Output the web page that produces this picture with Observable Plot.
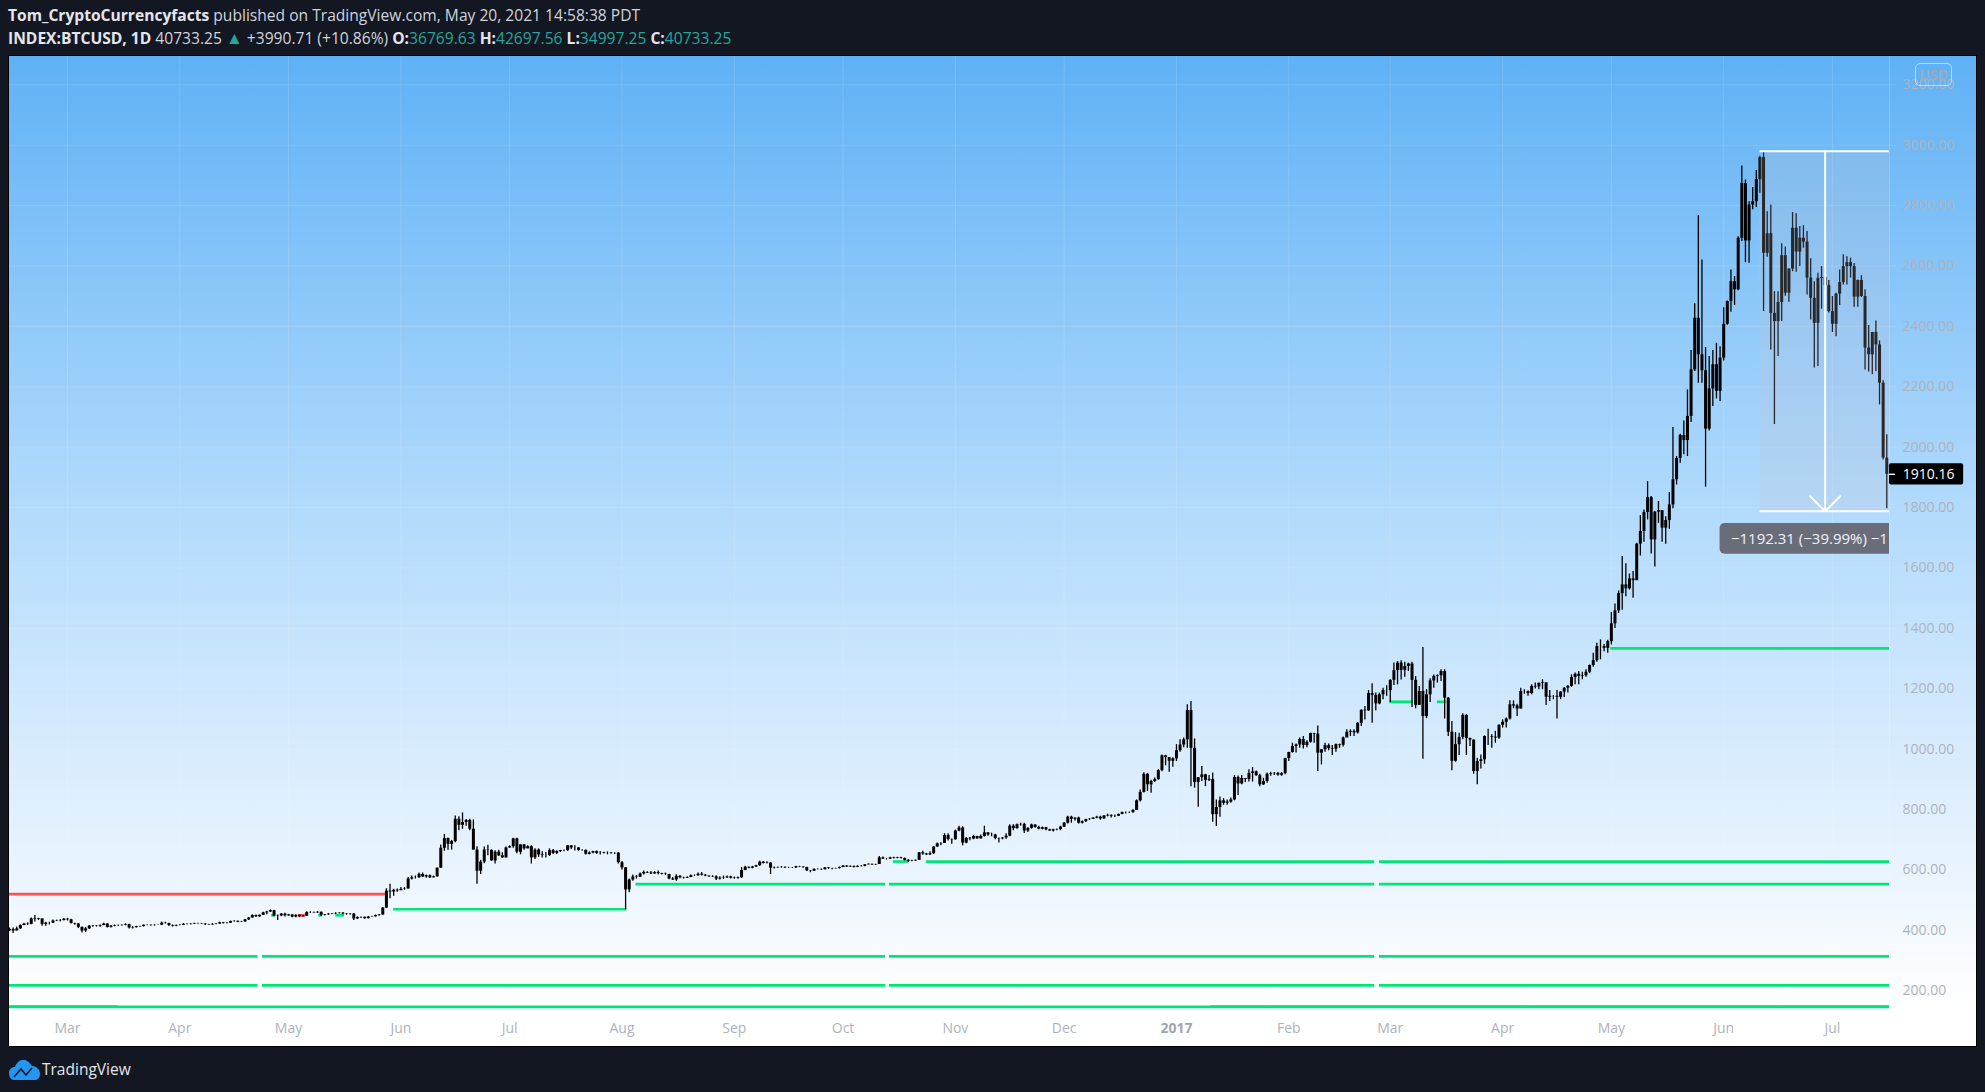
<!DOCTYPE html>
<html>
<head>
<meta charset="utf-8">
<script src="https://cdn.jsdelivr.net/npm/d3@7"></script>
<script src="https://cdn.jsdelivr.net/npm/@observablehq/plot@0.6"></script>
<style>
html,body{margin:0;padding:0;background:#131722;width:1985px;height:1092px;overflow:hidden;font-family:"Open Sans",sans-serif;}
#head{height:55px;box-sizing:border-box;padding:5px 0 0 8px;color:#d1d4dc;font-size:15.6px;line-height:21.5px;white-space:nowrap;}
#head b{font-weight:700;color:#e4e6ec;}
#head .v{color:#26a69a;}
#head .t{color:#26a69a;font-size:17px;}
#chart{position:absolute;left:9px;top:56px;}
#chart svg{display:block;box-shadow:0 0 0 1px #000;}
#usd{position:absolute;left:1915px;top:63px;width:35px;height:21px;border:1.5px solid rgba(255,255,255,.55);border-radius:5px;color:#a3a9b5;font-size:14px;font-weight:600;line-height:21px;text-align:center;box-sizing:content-box;}
#foot{position:absolute;left:8px;top:1057px;display:flex;align-items:center;color:#e4e6ec;font-size:15.5px;line-height:24px;}
#foot svg{margin-right:1px;}
</style>
</head>
<body>
<div id="head">
<div><b>Tom_CryptoCurrencyfacts</b> published on TradingView.com, May 20, 2021 14:58:38 PDT</div>
<div><b>INDEX:BTCUSD, 1D</b> 40733.25 <span class="t">▲</span> +3990.71 (+10.86%) <b>O:</b><span class="v">36769.63</span> <b>H:</b><span class="v">42697.56</span> <b>L:</b><span class="v">34997.25</span> <b>C:</b><span class="v">40733.25</span></div>
</div>
<div id="chart"></div>
<div id="usd">USD</div>
<div id="foot"><svg width="33" height="22" viewBox="0 0 33 22"><path d="M1 15 C1 11 4 8.5 7 9 C9 3 15 0 19 3 C22 4.5 23 7 24 8 C28 8 32 11 32 16 C32 20 29 22 27 22 L6 22 C3 22 1 19 1 15 Z" fill="#2196f3"/><path d="M6 19 L13 11 L18 17 L24 10" stroke="#131722" stroke-width="1.6" fill="none"/></svg>TradingView</div>
<script>
const startDay = "2016-02-14";
const firstOpen = 399;

const closes = [
 403,398,405,416,421,420,438,436,438,420,424,424,431,432,433,437,
 435,423,421,410,398,405,414,413,414,416,421,410,414,416,416,417,419,408,409,412,413,417,417,416,417,417,424,423,416,414,416,
 417,420,420,421,423,422,421,419,418,420,421,425,423,424,429,430,427,428,435,441,449,445,450,458,461,465,447,448,454,448,
 451,444,450,445,447,459,459,458,460,450,452,454,455,456,457,454,453,454,438,442,443,439,444,445,449,451,474,530,527,533,531,
 536,537,570,574,574,585,577,581,574,577,606,672,704,685,694,768,748,757,764,735,666,596,626,666,665,630,659,647,640,673,
 677,703,659,683,670,677,640,666,650,648,648,664,655,661,664,664,680,673,673,665,665,652,656,661,655,655,657,657,656,656,624,
 607,534,567,577,576,587,592,590,587,591,588,586,585,570,567,579,574,573,575,581,581,586,583,580,578,577,570,573,574,577,573,
 572,574,598,609,606,610,614,626,622,623,606,607,608,609,607,607,607,611,610,608,597,596,602,602,601,607,605,604,605,608,
 613,610,612,609,612,612,617,619,617,618,640,636,636,640,638,640,638,632,629,630,632,657,653,650,654,676,687,688,714,701,700,
 729,739,689,705,703,711,703,711,723,716,716,704,703,706,712,745,737,750,751,729,738,749,741,735,740,733,729,733,734,742,
 755,775,768,772,755,760,767,768,772,775,769,779,781,778,778,784,790,790,790,797,829,857,917,882,893,899,929,978,972,960,968,
 995,1014,1031,1128,1003,890,906,915,897,900,783,807,829,821,825,832,906,885,903,900,920,925,912,882,893,917,919,920,914,919,969,
 989,1009,1014,1032,1012,1023,1052,1050,987,998,1012,1002,1000,1015,1013,1037,1056,1059,1054,1086,1129,1127,1184,1178,1150,1180,1194,1194,
 1228,1260,1285,1261,1274,1282,1228,1145,1191,1108,1180,1226,1241,1243,1257,1169,1056,960,1015,1039,1112,1035,1030,926,959,965,1042,1042,1040,1037,1079,
 1089,1100,1147,1143,1133,1191,1191,1184,1208,1206,1218,1220,1172,1175,1175,1172,1189,1202,1208,1237,1248,1241,1243,1255,1277,1293,1340,1340,1334,1356,
 1415,1458,1515,1544,1531,1564,1558,1679,1721,1784,1833,1693,1785,1790,1732,1757,1809,1892,1963,2039,2022,2102,2256,2427,2306,2253,2060,2193,2273,2185,2295,
 2407,2482,2548,2521,2692,2873,2683,2802,2813,2886,2959,2642,2707,2443,2416,2479,2634,2510,2590,2725,2646,2692,2679,2560,2493,2410,2559,2562,2535,2449,
 2407,2507,2545,2598,2611,2598,2497,2552,2499,2328,2306,2380,2339,2212,1964,1910.16
];
const highs = [
 408,408,411,418,424,425,441,449,440,438,427,427,434,434,435,439,
 440,437,424,423,411,410,416,416,416,418,424,422,416,418,418,418,422,420,412,414,414,418,419,418,418,418,428,427,424,418,418,
 419,423,422,422,424,424,423,422,420,423,423,427,426,425,431,432,431,430,436,443,452,451,451,460,463,468,467,451,456,457,
 453,452,452,451,449,462,462,461,462,461,453,456,456,458,458,459,456,455,456,445,444,444,446,447,451,453,476,538,553,536,537,
 542,542,575,580,580,590,590,583,583,580,607,683,718,706,698,779,776,789,767,768,766,677,632,676,682,667,664,665,657,676,
 680,705,705,683,684,680,680,670,670,660,658,670,668,664,665,666,681,680,680,674,667,666,660,662,663,661,659,660,658,657,657,
 628,608,570,583,582,590,597,594,595,595,597,589,590,586,575,584,582,576,578,583,584,590,592,585,580,581,581,578,580,580,579,
 577,577,608,612,610,612,616,629,628,627,625,610,610,611,610,609,608,612,612,610,609,598,604,604,603,608,608,606,606,610,
 615,614,613,613,614,615,618,620,619,619,645,643,638,642,642,642,642,640,635,632,633,658,662,655,660,678,689,690,720,720,703,
 732,745,743,708,708,715,712,716,745,723,722,718,706,708,720,750,750,752,755,755,740,752,750,745,742,741,735,735,736,745,
 757,778,778,772,775,762,768,770,773,778,778,780,785,782,782,785,792,792,792,800,832,865,922,920,897,905,932,981,980,972,972,
 1015,1031,1037,1147,1158,1034,906,943,917,913,921,832,842,836,832,838,913,911,913,902,932,939,928,917,904,921,924,923,923,923,970,
 990,1020,1017,1037,1042,1028,1053,1053,1077,998,1020,1017,1012,1017,1017,1040,1064,1064,1064,1088,1130,1141,1194,1217,1186,1186,1202,1210,
 1230,1285,1290,1293,1288,1285,1288,1241,1208,1337,1197,1233,1246,1246,1263,1263,1171,1092,1055,1053,1117,1114,1037,1031,970,981,1044,1066,1048,1059,1081,
 1097,1103,1160,1160,1149,1202,1197,1193,1213,1219,1219,1230,1215,1194,1178,1194,1191,1204,1211,1246,1252,1257,1255,1263,1279,1318,1351,1362,1347,1361,
 1453,1481,1524,1638,1614,1580,1588,1682,1774,1792,1886,1837,1787,1820,1790,1770,1850,2065,1969,2043,2087,2190,2320,2475,2767,2620,2330,2300,2320,2344,2333,
 2462,2484,2587,2565,2697,2931,2885,2813,2860,2916,2963,2980,2780,2802,2515,2515,2674,2663,2590,2777,2773,2731,2734,2714,2624,2548,2576,2598,2590,2552,
 2499,2510,2587,2637,2631,2626,2608,2554,2568,2521,2403,2380,2418,2352,2220,2041
];
const lows = [
 396,390,399,403,416,416,419,428,433,414,414,418,423,429,429,431,
 431,421,417,406,391,393,403,410,411,410,415,408,408,412,413,414,415,405,405,408,410,411,415,414,414,416,417,421,413,411,412,
 415,416,418,418,420,421,420,416,417,417,419,420,421,421,423,428,425,426,427,433,441,443,443,449,452,459,444,433,445,444,
 447,442,442,442,444,447,456,457,456,446,448,450,452,453,454,452,450,450,433,436,439,437,438,444,444,447,450,472,505,513,526,
 533,533,537,567,570,573,575,573,572,574,577,606,662,665,666,690,730,735,745,730,666,553,585,621,647,629,620,645,638,640,
 672,672,654,650,665,670,620,635,642,640,640,645,651,651,658,660,662,668,663,662,662,650,650,654,652,650,653,650,652,651,620,
 600,468,525,563,570,575,583,588,585,586,584,583,582,568,565,563,571,570,572,575,578,579,580,578,575,575,565,567,569,572,570,
 569,569,572,598,604,604,608,612,620,620,585,603,606,606,605,605,605,605,608,606,595,591,595,600,598,600,602,601,603,603,
 608,608,608,607,608,610,611,617,615,615,618,635,633,635,636,637,636,630,625,627,628,632,649,648,648,652,675,680,688,696,685,
 699,727,680,687,697,700,702,703,709,712,710,700,689,700,702,710,730,735,745,721,724,735,738,733,733,730,728,726,730,730,
 741,752,755,762,752,752,757,764,768,770,765,768,776,772,774,777,783,785,787,788,797,825,855,860,854,890,897,925,945,924,940,
 959,990,1005,1003,876,871,808,893,876,893,758,744,775,814,814,821,829,847,882,890,891,891,910,876,880,887,910,913,910,910,915,
 959,987,987,1003,1001,1005,1020,1020,926,948,990,995,979,990,1003,1007,1042,1042,1042,1050,1075,1097,1125,1086,1127,1147,1164,1175,
 1155,1211,1213,1229,1238,1257,1138,1134,1145,967,1101,1155,1202,1219,1224,1100,1042,929,957,979,1031,979,1009,917,882,934,950,1012,1003,1020,1033,
 1070,1070,1097,1134,1108,1133,1182,1175,1180,1199,1197,1197,1145,1158,1164,1100,1164,1171,1186,1205,1213,1213,1230,1238,1250,1271,1288,1296,1323,1318,
 1345,1400,1450,1460,1505,1527,1500,1561,1640,1685,1759,1646,1603,1748,1685,1679,1728,1796,1875,1947,1975,1969,2082,2251,2212,2212,1868,2054,2135,2160,2151,
 2285,2404,2447,2469,2518,2681,2611,2609,2786,2794,2841,2449,2629,2322,2075,2300,2416,2500,2480,2581,2579,2598,2659,2504,2421,2262,2267,2457,2520,2444,
 2380,2366,2469,2537,2537,2560,2463,2463,2496,2256,2249,2240,2251,2140,1958,1796
];

const priceTicks = [200,400,600,800,1000,1200,1400,1600,1800,2000,2200,2400,2600,2800,3000,3200];
const monthTicks = ["2016-03-01","2016-04-01","2016-05-01","2016-06-01","2016-07-01","2016-08-01","2016-09-01","2016-10-01","2016-11-01","2016-12-01","2017-02-01","2017-03-01","2017-04-01","2017-05-01","2017-06-01","2017-07-01"];
const monthLabels = ["Mar","Apr","May","Jun","Jul","Aug","Sep","Oct","Nov","Dec","Feb","Mar","Apr","May","Jun","Jul"];
const yearTick = "2017-01-01";

const greenPrice = [
 314,314,314,314, 218,218,218,218, 147,147.8,147.8,
 470, 553,553,553, 628,628,628, 1334, 1157,1157, 450,450,450
];
const greenStart = [
 "2016-02-14","2016-04-23T19:00","2016-10-13T19:00","2017-02-26",
 "2016-02-14","2016-04-23T19:00","2016-10-13T19:00","2017-02-26",
 "2016-02-14","2016-02-14","2017-01-10T10:00",
 "2016-05-30","2016-08-04T21:00","2016-10-13T19:00","2017-02-26",
 "2016-10-14T21:00","2016-10-24","2017-02-26","2017-04-30T20:00",
 "2017-02-28T20:00","2017-03-14","2016-04-26T08:00","2016-05-09T08:00","2016-05-14"
];
const greenEnd = [
 "2016-04-22T14:00","2016-10-12T17:00","2017-02-24T17:00","2017-07-20",
 "2016-04-22T14:00","2016-10-12T17:00","2017-02-24T17:00","2017-07-20",
 "2017-07-20","2016-03-15","2017-07-20",
 "2016-08-02T08:00","2016-10-12T17:00","2017-02-24T17:00","2017-07-20",
 "2016-10-19","2017-02-24T17:00","2017-07-20","2017-07-20",
 "2017-03-07T10:00","2017-03-16T14:00","2016-04-27","2016-05-10T10:00","2016-05-16T10:00"
];
const redPrice = [520, 450];
const redStart = ["2016-02-14","2016-05-03T17:00"];
const redEnd = ["2016-05-27T17:00","2016-05-05T17:00"];

const drawTop = 2979.88, drawBottom = 1787.57, lastPrice = 1910.16;
const drawStart = "2017-06-11", drawMid = "2017-06-29T00:00";
const labelText = "−1192.31 (−39.99%) −11";

const d = s => new Date(s.includes("T") ? s + "Z" : s + "T00:00Z");
const xEnd = d("2017-07-16T18:00");

const candles = closes.map((c, i) => ({
  date: d3.utcDay.offset(d(startDay), i),
  open: i ? closes[i - 1] : firstOpen,
  close: c, high: highs[i], low: lows[i]
}));
const segs = (p, a, b) => p.map((v, i) => ({price: v, a: d(a[i]), b: d(b[i])}));
const green = segs(greenPrice, greenStart, greenEnd);
const red = segs(redPrice, redStart, redEnd);
const monthDates = monthTicks.map(d);
const axisFont = "Open Sans, sans-serif";

const plot = Plot.plot({
  width: 1967, height: 990,
  marginLeft: 0, marginRight: 87, marginTop: 0, marginBottom: 33,
  style: {background: "linear-gradient(180deg,#5fb1f5 0px,#afd9fc 435px,#eef6fe 842px,#ffffff 950px)", overflow: "visible", fontFamily: axisFont, fontSize: "13.5px"},
  x: {type: "utc", domain: [d(startDay), xEnd], axis: null},
  y: {domain: [124.8, 3293.7], axis: null},
  marks: [
    Plot.ruleX([...monthDates, d(yearTick)], {x: v => v, stroke: "white", strokeOpacity: 0.13}),
    Plot.ruleY(priceTicks, {y: v => v, stroke: "white", strokeOpacity: 0.13}),
    Plot.ruleX([xEnd], {x: v => v, stroke: "white", strokeOpacity: 0.2}),
    Plot.ruleY(green, {y: "price", x1: "a", x2: "b", stroke: "#00e676", strokeWidth: 2.7, clip: true}),
    Plot.ruleY(red, {y: "price", x1: "a", x2: "b", stroke: "#ff5252", strokeWidth: 2.7, clip: true}),
    Plot.ruleX(candles, {x: "date", y1: "low", y2: "high", stroke: "#000", strokeWidth: 1.3, clip: true}),
    Plot.ruleX(candles, {x: "date", y1: "open", y2: "close", stroke: "#000", strokeWidth: 3, clip: true}),
    Plot.rect([{}], {x1: d(drawStart), x2: xEnd, y1: drawBottom, y2: drawTop, fill: "rgb(200,195,210)", fillOpacity: 0.2}),
    Plot.ruleY([drawTop, drawBottom], {y: v => v, x1: d(drawStart), x2: xEnd, stroke: "white", strokeWidth: 2}),
    Plot.arrow([{}], {x1: d(drawMid), y1: drawTop, x2: d(drawMid), y2: drawBottom, stroke: "white", strokeWidth: 2, headLength: 16, headAngle: 90}),
    Plot.rect([{}], {x1: d("2017-05-31"), x2: d("2017-07-25"), y1: 1645.7, y2: 1747.3, fill: "#696d79", rx: 5, clip: true}),
    Plot.text([labelText], {x: d("2017-06-03"), y: 1697, text: v => v, textAnchor: "start", fill: "#f0f3fa", fontSize: 15, clip: true}),
    Plot.axisY(priceTicks, {anchor: "right", tickFormat: v => v.toFixed(2), tickSize: 6, tickPadding: 7, stroke: "white", strokeOpacity: 0.15, fill: "#adb3bd", label: null, fontSize: 14}),
    Plot.axisX(monthDates, {anchor: "bottom", tickFormat: (v, i) => monthLabels[i], tickSize: 0, tickPadding: 10, fill: "#adb3bd", label: null, fontSize: 14}),
    Plot.axisX([d(yearTick)], {anchor: "bottom", tickFormat: () => "2017", tickSize: 0, tickPadding: 10, fill: "#9fa5b0", fontWeight: "bold", label: null, fontSize: 14}),
    Plot.rect([{}], {x1: xEnd, x2: d("2017-08-06T05:00"), y1: lastPrice - 35, y2: lastPrice + 35, fill: "#000", rx: 2}),
    Plot.ruleY([lastPrice], {y: v => v, x1: xEnd, x2: d("2017-07-18T10:00"), stroke: "white", strokeWidth: 1.4}),
    Plot.text([lastPrice], {x: d("2017-07-20T10:00"), y: v => v, text: v => v.toFixed(2), textAnchor: "start", fill: "#fff", fontSize: 14})
  ]
});
document.getElementById("chart").append(plot);
</script>
</body>
</html>
